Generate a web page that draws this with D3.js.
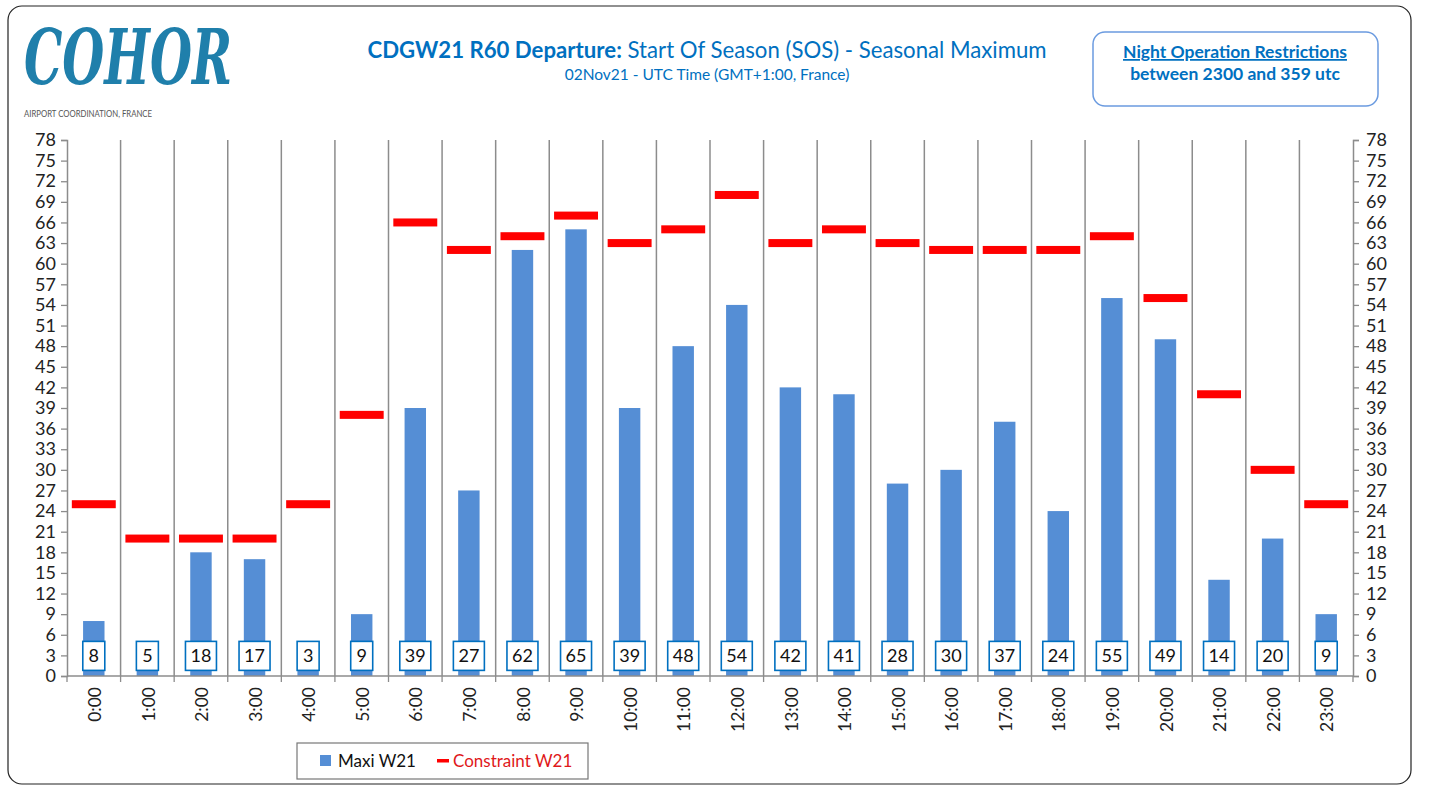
<!DOCTYPE html>
<html>
<head>
<meta charset="utf-8">
<script src="https://cdn.jsdelivr.net/npm/d3@7"></script>
<style>
  body { margin: 0; background: #fff; }
  svg { font-family: Lato, "Open Sans", "Liberation Sans", sans-serif; }
</style>
</head>
<body>
<svg id="chart"></svg>
<script>
const width = 1431;
const height = 787;

// data
const hours = ["0:00","1:00","2:00","3:00","4:00","5:00","6:00","7:00","8:00","9:00","10:00","11:00",
  "12:00","13:00","14:00","15:00","16:00","17:00","18:00","19:00","20:00","21:00","22:00","23:00"];
const maxiW21 = [8,5,18,17,3,9,39,27,62,65,39,48,54,42,41,28,30,37,24,55,49,14,20,9];
const constraintW21 = [25,20,20,20,25,38,66,62,64,67,63,65,70,63,65,63,62,62,62,64,55,41,30,25];
const yTicks = d3.range(0, 79, 3);

const blue = "#558ed5";
const red = "#ff0000";
const titleBlue = "#0070c0";

const plotLeft = 67, plotRight = 1353, plotTop = 140, plotBottom = 676;

var svg = d3.select("#chart").attr("width", width).attr("height", height);

// outer frame
svg.append("rect")
  .attr("x", 8).attr("y", 6).attr("width", 1403).attr("height", 778)
  .attr("rx", 14).attr("fill", "#fff").attr("stroke", "#222").attr("stroke-width", 1.2);

// logo
svg.append("text")
  .attr("x", 24).attr("y", 84)
  .attr("font-family", "DejaVu Serif")
  .attr("font-style", "italic").attr("font-weight", "bold")
  .attr("font-size", 76).attr("fill", "#1f7fab")
  .attr("textLength", 208).attr("lengthAdjust", "spacingAndGlyphs")
  .text("COHOR");
svg.append("text")
  .attr("x", 24).attr("y", 117)
  .attr("font-size", 8.5).attr("fill", "#555")
  .attr("textLength", 128).attr("lengthAdjust", "spacingAndGlyphs")
  .text("AIRPORT COORDINATION, FRANCE");

// title
var title = svg.append("text")
  .attr("x", 707).attr("y", 58).attr("text-anchor", "middle")
  .attr("fill", titleBlue).attr("font-size", 22.2);
title.append("tspan").attr("font-weight", "bold").text("CDGW21 R60 Departure:");
title.append("tspan").text(" Start Of Season (SOS) - Seasonal Maximum");
svg.append("text")
  .attr("x", 707).attr("y", 80).attr("text-anchor", "middle")
  .attr("fill", titleBlue).attr("font-size", 15.5)
  .text("02Nov21 - UTC Time (GMT+1:00, France)");

// night restriction box
svg.append("rect")
  .attr("x", 1093).attr("y", 32).attr("width", 285).attr("height", 74)
  .attr("rx", 12).attr("fill", "#fff").attr("stroke", "#6b9be0").attr("stroke-width", 1.5);
svg.append("text")
  .attr("x", 1235).attr("y", 58).attr("text-anchor", "middle")
  .attr("fill", titleBlue).attr("font-size", 17.5).attr("font-weight", "bold")
  .attr("text-decoration", "underline")
  .text("Night Operation Restrictions");
svg.append("text")
  .attr("x", 1235).attr("y", 80).attr("text-anchor", "middle")
  .attr("fill", titleBlue).attr("font-size", 17.5).attr("font-weight", "bold")
  .text("between 2300 and  359 utc");

// scales
var xScale = d3.scaleBand().domain(hours).range([plotLeft, plotRight]).padding(0);
var yScale = d3.scaleLinear().domain([0, 78]).range([plotBottom, plotTop]);

// vertical gridlines at category boundaries
var bounds = hours.map((d) => xScale(d)).concat([plotRight]);
svg.append("g").selectAll("line")
  .data(bounds.slice(1, -1))
  .enter().append("line")
  .attr("x1", (d) => d).attr("x2", (d) => d)
  .attr("y1", plotTop).attr("y2", plotBottom)
  .attr("stroke", "#8c8c8c").attr("stroke-width", 1.5);

// bars
var bw = xScale.bandwidth() * 0.4;
svg.append("g").selectAll("rect")
  .data(maxiW21)
  .enter().append("rect")
  .attr("x", (d, i) => xScale(hours[i]) + xScale.bandwidth() / 2 - bw / 2)
  .attr("y", (d) => yScale(d))
  .attr("width", bw)
  .attr("height", (d) => yScale(0) - yScale(d))
  .attr("fill", blue);

// constraint dashes
var dw = xScale.bandwidth() * 0.82;
svg.append("g").selectAll("rect")
  .data(constraintW21)
  .enter().append("rect")
  .attr("x", (d, i) => xScale(hours[i]) + xScale.bandwidth() / 2 - dw / 2)
  .attr("y", (d) => yScale(d) - 4)
  .attr("width", dw)
  .attr("height", 8)
  .attr("fill", red);

// value labels in boxes
var labels = svg.append("g").selectAll("g")
  .data(maxiW21)
  .enter().append("g")
  .attr("transform", (d, i) => `translate(${xScale(hours[i]) + xScale.bandwidth() / 2},${yScale(3)})`);
labels.append("rect")
  .attr("x", (d) => -(String(d).length * 9 + 13) / 2)
  .attr("y", -14)
  .attr("width", (d) => String(d).length * 9 + 13)
  .attr("height", 29)
  .attr("fill", "#fff").attr("stroke", titleBlue).attr("stroke-width", 1.6);
labels.append("text")
  .attr("text-anchor", "middle").attr("dy", "0.36em")
  .attr("font-size", 18).attr("fill", "#111")
  .text((d) => d);

// axes
var yLeft = d3.axisLeft(yScale).tickValues(yTicks).tickSize(6).tickPadding(5);
var yRight = d3.axisRight(yScale).tickValues(yTicks).tickSize(6).tickPadding(7);

function styleAxis(g) {
  g.select(".domain").attr("stroke", "#8c8c8c").attr("stroke-width", 1.5);
  g.selectAll(".tick line").attr("stroke", "#8c8c8c").attr("stroke-width", 1.3);
  g.selectAll(".tick text").attr("font-size", 18).attr("fill", "#222")
    .attr("font-family", "Lato, 'Open Sans', 'Liberation Sans', sans-serif");
}
svg.append("g").attr("transform", `translate(${plotLeft},0)`).call(yLeft).call(styleAxis);
svg.append("g").attr("transform", `translate(${plotRight},0)`).call(yRight).call(styleAxis);

// x axis baseline + boundary ticks
svg.append("line")
  .attr("x1", plotLeft).attr("x2", plotRight).attr("y1", plotBottom).attr("y2", plotBottom)
  .attr("stroke", "#8c8c8c").attr("stroke-width", 1.5);
svg.append("g").selectAll("line")
  .data(bounds)
  .enter().append("line")
  .attr("x1", (d) => d).attr("x2", (d) => d)
  .attr("y1", plotBottom).attr("y2", plotBottom + 6)
  .attr("stroke", "#8c8c8c").attr("stroke-width", 1.3);

// rotated hour labels
svg.append("g").selectAll("text")
  .data(hours)
  .enter().append("text")
  .attr("transform", (d) => `translate(${xScale(d) + xScale.bandwidth() / 2 + 1},${plotBottom + 11}) rotate(-90)`)
  .attr("text-anchor", "end").attr("dy", "0.35em")
  .attr("font-size", 17.5).attr("fill", "#222")
  .text((d) => d);

// legend
var lg = svg.append("g");
lg.append("rect")
  .attr("x", 297).attr("y", 743).attr("width", 291).attr("height", 36)
  .attr("fill", "#fff").attr("stroke", "#777").attr("stroke-width", 1.2);
lg.append("rect").attr("x", 320).attr("y", 755).attr("width", 11).attr("height", 11).attr("fill", blue);
lg.append("text").attr("x", 338).attr("y", 767).attr("font-size", 17).attr("fill", "#111").text("Maxi W21");
lg.append("rect").attr("x", 437).attr("y", 759).attr("width", 12).attr("height", 3.5).attr("fill", red);
lg.append("text").attr("x", 453).attr("y", 767).attr("font-size", 17).attr("fill", "#e0181a").text("Constraint W21");
</script>
</body>
</html>
